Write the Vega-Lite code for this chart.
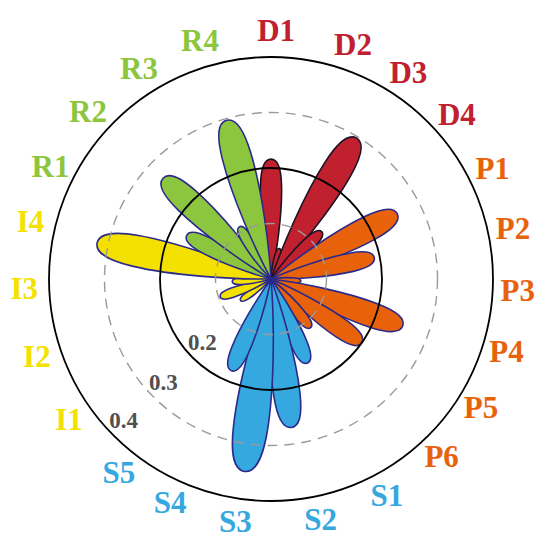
{
  "$schema": "https://vega.github.io/schema/vega-lite/v6.json",
  "width": 542,
  "height": 528,
  "autosize": {"type": "none"},
  "padding": {"left": 0, "top": 15, "right": 8, "bottom": 0},
  "background": "white",
  "config": {"view": {"stroke": null}},
  "datasets": {
    "petals": [
      {"id": "D1", "group": "D", "angle": 0, "value": 0.216},
      {"id": "D2", "group": "D", "angle": 15.65, "value": 0.057},
      {"id": "D3", "group": "D", "angle": 31.3, "value": 0.297},
      {"id": "D4", "group": "D", "angle": 46.96, "value": 0.125},
      {"id": "P1", "group": "P", "angle": 62.61, "value": 0.256},
      {"id": "P2", "group": "P", "angle": 78.26, "value": 0.19},
      {"id": "P3", "group": "P", "angle": 93.91, "value": 0.054},
      {"id": "P4", "group": "P", "angle": 109.57, "value": 0.252},
      {"id": "P5", "group": "P", "angle": 125.22, "value": 0.2},
      {"id": "P6", "group": "P", "angle": 140.87, "value": 0.113},
      {"id": "S1", "group": "S", "angle": 156.52, "value": 0.165},
      {"id": "S2", "group": "S", "angle": 172.17, "value": 0.27},
      {"id": "S3", "group": "S", "angle": 187.83, "value": 0.35},
      {"id": "S4", "group": "S", "angle": 203.48, "value": 0.18},
      {"id": "S5", "group": "S", "angle": 219.13, "value": 0.015},
      {"id": "I1", "group": "I", "angle": 234.78, "value": 0.067},
      {"id": "I2", "group": "I", "angle": 250.43, "value": 0.097},
      {"id": "I3", "group": "I", "angle": 266.09, "value": 0.07},
      {"id": "I4", "group": "I", "angle": 281.74, "value": 0.32},
      {"id": "R1", "group": "R", "angle": 297.39, "value": 0.171},
      {"id": "R2", "group": "R", "angle": 313.04, "value": 0.266},
      {"id": "R3", "group": "R", "angle": 328.7, "value": 0.11},
      {"id": "R4", "group": "R", "angle": 344.35, "value": 0.297}
    ],
    "rings": [
      {"value": 0.1, "kind": "dashed"},
      {"value": 0.2, "kind": "solid"},
      {"value": 0.3, "kind": "dashed"},
      {"value": 0.4, "kind": "solid"}
    ],
    "labels": [
      {"label": "D1", "group": "D", "angle": 1.2, "r": 0.4},
      {"label": "D2", "group": "D", "angle": 19.4, "r": 0.4},
      {"label": "D3", "group": "D", "angle": 33.8, "r": 0.4},
      {"label": "D4", "group": "D", "angle": 48.8, "r": 0.4},
      {"label": "P1", "group": "P", "angle": 63.8, "r": 0.4},
      {"label": "P2", "group": "P", "angle": 78.5, "r": 0.4},
      {"label": "P3", "group": "P", "angle": 93, "r": 0.4},
      {"label": "P4", "group": "P", "angle": 107.5, "r": 0.4},
      {"label": "P5", "group": "P", "angle": 121.8, "r": 0.4},
      {"label": "P6", "group": "P", "angle": 136.3, "r": 0.4},
      {"label": "S1", "group": "S", "angle": 152, "r": 0.4},
      {"label": "S2", "group": "S", "angle": 168.4, "r": 0.4},
      {"label": "S3", "group": "S", "angle": 188.3, "r": 0.4},
      {"label": "S4", "group": "S", "angle": 204.1, "r": 0.4},
      {"label": "S5", "group": "S", "angle": 218, "r": 0.4},
      {"label": "I1", "group": "I", "angle": 234.9, "r": 0.4},
      {"label": "I2", "group": "I", "angle": 251.4, "r": 0.4},
      {"label": "I3", "group": "I", "angle": 267.4, "r": 0.4},
      {"label": "I4", "group": "I", "angle": 283.2, "r": 0.4},
      {"label": "R1", "group": "R", "angle": 296.8, "r": 0.4},
      {"label": "R2", "group": "R", "angle": 312.2, "r": 0.4},
      {"label": "R3", "group": "R", "angle": 327.7, "r": 0.4},
      {"label": "R4", "group": "R", "angle": 343.3, "r": 0.4}
    ],
    "ringLabels": [
      {"label": "0.2", "value": 0.2, "angle": 227},
      {"label": "0.3", "value": 0.3, "angle": 226},
      {"label": "0.4", "value": 0.4, "angle": 226}
    ]
  },
  "layer": [
    {
      "data": {"name": "petals"},
      "mark": {
        "type": "point",
        "shape": "M0,0 C0.045,-0.2 0.095,-0.55 0.088,-0.78 C0.084,-0.93 0.05,-1 0,-1 C-0.05,-1 -0.084,-0.93 -0.088,-0.78 C-0.095,-0.55 -0.045,-0.2 0,0 Z",
        "filled": true,
        "opacity": 1,
        "fillOpacity": 1,
        "strokeWidth": 1.6
      },
      "encoding": {
        "size": {"field": "value", "type": "quantitative", "scale": {"type": "pow", "exponent": 2, "domain": [0, 0.4], "range": [0, 197136], "zero": true}, "legend": null},
        "angle": {"field": "angle", "type": "quantitative", "scale": {"domain": [0, 360], "range": [0, 360]}},
        "color": {"field": "group", "type": "nominal", "scale": {"domain": ["D", "P", "S", "I", "R"], "range": ["#C1212F", "#E8620B", "#35A8E0", "#F4E100", "#8CC63F"]}, "legend": null},
        "stroke": {"field": "group", "type": "nominal", "scale": {"domain": ["D", "P", "S", "I", "R"], "range": ["#1d1224", "#2B2A8A", "#2B2A8A", "#2B2A8A", "#2B2A8A"]}, "legend": null}
      }
    },
    {
      "data": {"name": "rings"},
      "transform": [{"filter": "datum.kind === 'dashed'"}],
      "mark": {"type": "point", "shape": "circle", "filled": false, "opacity": 1, "stroke": "#9a9a9a", "strokeWidth": 1.4, "strokeDash": [10, 7]},
      "encoding": {
        "size": {"field": "value", "type": "quantitative", "scale": {"type": "pow", "exponent": 2, "domain": [0, 0.4], "range": [0, 197136], "zero": true}, "legend": null}
      }
    },
    {
      "data": {"name": "rings"},
      "transform": [{"filter": "datum.kind === 'solid'"}],
      "mark": {"type": "point", "shape": "circle", "filled": false, "opacity": 1, "stroke": "#000000", "strokeWidth": 1.8},
      "encoding": {
        "size": {"field": "value", "type": "quantitative", "scale": {"type": "pow", "exponent": 2, "domain": [0, 0.4], "range": [0, 197136], "zero": true}, "legend": null}
      }
    },
    {
      "data": {"name": "labels"},
      "mark": {"type": "text", "font": "Liberation Serif", "fontWeight": "bold", "fontSize": 31, "radiusOffset": 25, "align": "center", "baseline": "middle"},
      "encoding": {
        "theta": {"field": "angle", "type": "quantitative", "stack": null, "scale": {"domain": [0, 360], "range": [0, 6.283185307179586]}},
        "radius": {"field": "r", "type": "quantitative", "scale": {"type": "linear", "domain": [0, 0.4], "range": [0, 222], "zero": true}},
        "text": {"field": "label", "type": "nominal"},
        "color": {"field": "group", "type": "nominal", "scale": {"domain": ["D", "P", "S", "I", "R"], "range": ["#C1212F", "#E8620B", "#35A8E0", "#F4E100", "#8CC63F"]}, "legend": null}
      }
    },
    {
      "data": {"name": "ringLabels"},
      "mark": {"type": "text", "font": "Liberation Serif", "fontWeight": "bold", "fontSize": 23, "color": "#505050", "radiusOffset": -17, "align": "center", "baseline": "middle"},
      "encoding": {
        "theta": {"field": "angle", "type": "quantitative", "stack": null, "scale": {"domain": [0, 360], "range": [0, 6.283185307179586]}},
        "radius": {"field": "value", "type": "quantitative", "scale": {"type": "linear", "domain": [0, 0.4], "range": [0, 222], "zero": true}},
        "text": {"field": "label", "type": "nominal"}
      }
    }
  ]
}
